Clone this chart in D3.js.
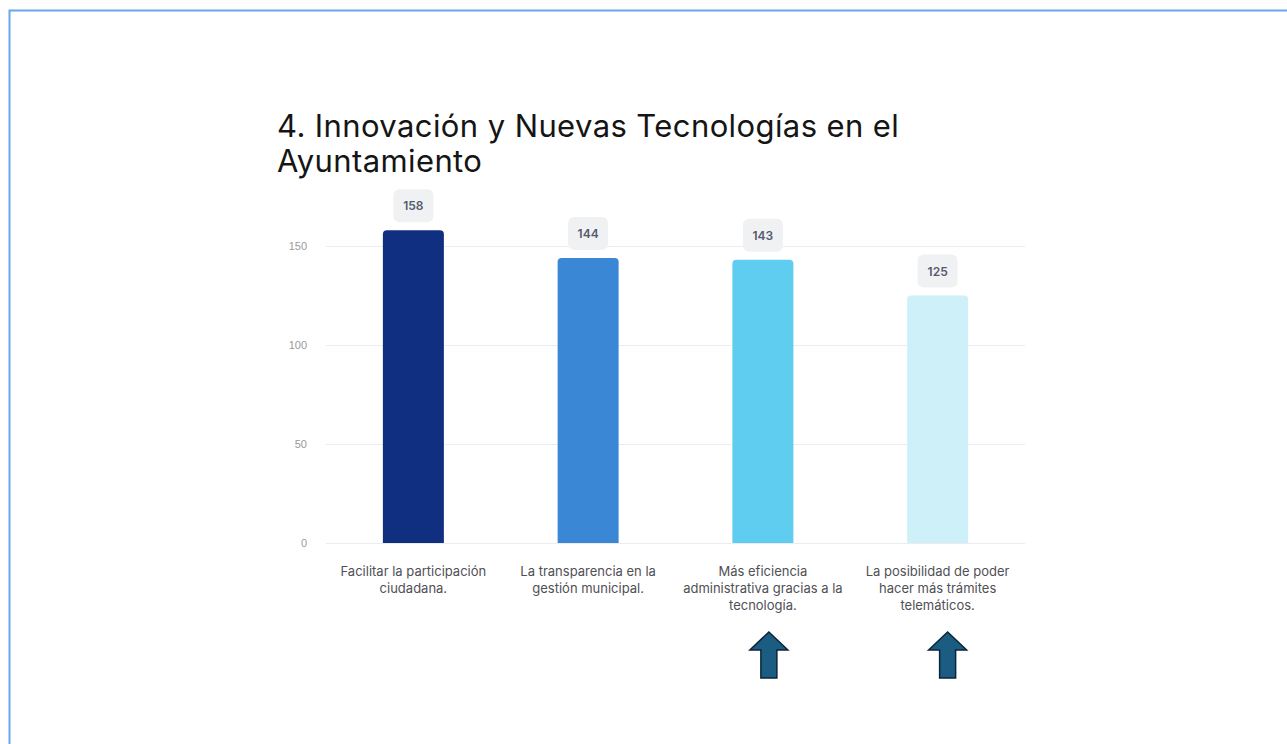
<!DOCTYPE html>
<html lang="es">
<head>
    <meta charset="UTF-8">
    <title>Innovación y Nuevas Tecnologías en el Ayuntamiento</title>
    <script src="https://d3js.org/d3.v7.min.js"></script>
    <style>
        body { margin: 0; background: #fff; }
        svg { display: block; font-family: Inter, "Noto Sans", sans-serif; }
        .title { font-size: 31px; letter-spacing: 0.4px; fill: #151515; }
        .grid line { stroke: #ececef; stroke-width: 1px; }
        .y-axis text { font-size: 11px; }
        .x-label { font-size: 13px; fill: #505055; }
        .val-box { fill: #f0f1f3; }
        .val-text { font-size: 12px; font-weight: 600; fill: #555a70; }
    </style>
</head>
<body>
    <svg width="1287" height="744"></svg>

    <script>
        // Data
        const categories = [
            ["Facilitar la participación", "ciudadana."],
            ["La transparencia en la", "gestión municipal."],
            ["Más eficiencia", "administrativa gracias a la", "tecnología."],
            ["La posibilidad de poder", "hacer más trámites", "telemáticos."]
        ];
        const values = [158, 144, 143, 125];
        const barColors = ["#112f80", "#3a87d6", "#5ecdf0", "#cdf0f9"];
        const yTicks = [0, 50, 100, 150];
        const highlighted = [2, 3]; // categories marked with an arrow

        const svg = d3.select("svg");

        // frame line of the slide
        svg.append("path")
            .attr("d", "M9.5,744 V10.5 H1287")
            .attr("fill", "none")
            .attr("stroke", "#6aa7e8")
            .attr("stroke-width", 2);

        // Title
        const title = svg.append("text").attr("class", "title");
        title.append("tspan").attr("x", 277).attr("y", 137).text("4. Innovación y Nuevas Tecnologías en el");
        title.append("tspan").attr("x", 277).attr("y", 172).text("Ayuntamiento");

        // Scales
        const plotLeft = 326, plotRight = 1025, plotTop = 246, plotBottom = 543;
        const x = d3.scaleBand()
            .domain(d3.range(categories.length))
            .range([plotLeft, plotRight]);
        const y = d3.scaleLinear()
            .domain([0, 150])
            .range([plotBottom, plotTop]);
        const barW = 61;

        // Grid
        svg.append("g").attr("class", "grid")
            .selectAll("line")
            .data(yTicks)
            .enter().append("line")
            .attr("x1", plotLeft).attr("x2", plotRight)
            .attr("y1", d => y(d) + 0.5).attr("y2", d => y(d) + 0.5);

        // Y axis
        const yAxis = svg.append("g")
            .attr("class", "y-axis")
            .attr("transform", `translate(${plotLeft - 19},0)`)
            .call(d3.axisLeft(y).tickValues(yTicks).tickSize(0).tickPadding(0));
        yAxis.select(".domain").remove();
        yAxis.selectAll("text").attr("fill", "#9a9a9a");

        // Bars with rounded tops
        const r = 4;
        svg.selectAll(".bar")
            .data(values)
            .enter().append("path")
            .attr("class", "bar")
            .attr("fill", (d, i) => barColors[i])
            .attr("d", (d, i) => {
                const x0 = x(i) + x.bandwidth() / 2 - barW / 2;
                const x1 = x0 + barW;
                const yt = y(d), yb = y(0);
                return `M${x0},${yb} V${yt + r} Q${x0},${yt} ${x0 + r},${yt} H${x1 - r} Q${x1},${yt} ${x1},${yt + r} V${yb} Z`;
            });

        // Value labels
        const lab = svg.selectAll(".val")
            .data(values)
            .enter().append("g")
            .attr("class", "val")
            .attr("transform", (d, i) => `translate(${x(i) + x.bandwidth() / 2},${y(d) - 8})`);
        lab.append("rect")
            .attr("class", "val-box")
            .attr("x", -20).attr("y", -33)
            .attr("width", 40).attr("height", 33)
            .attr("rx", 6);
        lab.append("text")
            .attr("class", "val-text")
            .attr("text-anchor", "middle")
            .attr("y", -12)
            .text(d => d);

        // Category labels
        const xl = svg.selectAll(".x-label")
            .data(categories)
            .enter().append("text")
            .attr("class", "x-label")
            .attr("text-anchor", "middle");
        xl.selectAll("tspan")
            .data((d, i) => d.map(t => ({ t, i })))
            .enter().append("tspan")
            .attr("x", d => x(d.i) + x.bandwidth() / 2)
            .attr("y", (d, j) => 576 + j * 17)
            .text(d => d.t);

        // Arrows under highlighted categories
        const arrowOffset = [6, 10];
        const arrow = "M0,0 L19,18 L8,18 L8,46 L-8,46 L-8,18 L-19,18 Z";
        svg.selectAll(".arrow")
            .data(highlighted)
            .enter().append("path")
            .attr("class", "arrow")
            .attr("d", arrow)
            .attr("transform", (d, k) => `translate(${x(d) + x.bandwidth() / 2 + arrowOffset[k]},632)`)
            .attr("fill", "#1b5c82")
            .attr("stroke", "#0c2536")
            .attr("stroke-width", 1.5)
            .attr("stroke-linejoin", "miter");
    </script>
</body>
</html>
